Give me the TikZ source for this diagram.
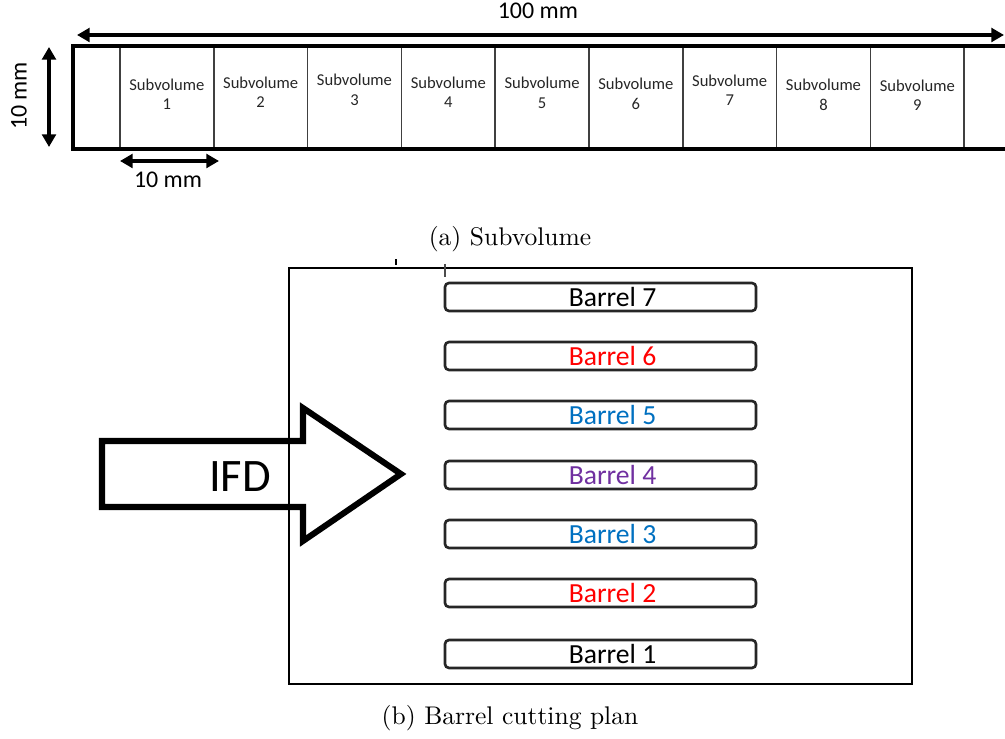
\documentclass[tikz,border=0pt]{standalone}
\usepackage{fontspec}
\newfontfamily\calibri{Carlito}
\usetikzlibrary{arrows.meta, calc}
\definecolor{BarrelRed}{RGB}{255, 0, 0}
\definecolor{BarrelBlue}{RGB}{0, 112, 192}
\definecolor{BarrelPurple}{RGB}{112, 48, 160}

\begin{document}
\begin{tikzpicture}[
    x=0.38pt, y=-0.38pt,
    every node/.style={align=center},
    cell/.style={draw=black!75, line width=0.6pt, minimum width=35.64pt,
                 minimum height=39.1pt, inner sep=0pt},
    svtext/.style={font=\calibri\fontsize{6.3}{7.4}\selectfont, text=black!85},
    dim/.style={{Triangle[length=4.8pt,width=5.2pt]}-{Triangle[length=4.8pt,width=5.2pt]},
                line width=1.4pt},
    dimtext/.style={font=\calibri\fontsize{9.1}{11}\selectfont},
    barrel/.style={draw=black!85, line width=1pt, rounded corners=1.5pt,
                   minimum width=118.2pt, minimum height=10.6pt, inner sep=0pt},
    barreltext/.style={font=\calibri\fontsize{10.5}{12}\selectfont},
    caption/.style={font=\fontsize{9.7}{12}\selectfont}
]
\useasboundingbox (0,0) rectangle (1005,739);

\foreach \i/\dy in {1/-3.5, 2/-5, 3/-7.5, 4/-5.5, 5/-4.5, 6/-3.5, 7/-7.5, 8/-2.5, 9/-2.5} {
  \node[cell] (cell\i) at ({166.9+93.8*(\i-1)}, 97.5) {};
  \node[svtext] (sv\i) at ($(cell\i.center)+(0,\dy)$) {Subvolume\\\i};
}
\draw[line width=1.5pt] (1005,46) -- (73,46) -- (73,149) -- (1005,149);

\coordinate (wl) at (77,35);
\coordinate (wr) at (1004,35);
\draw[dim] (wl) -- node[dimtext, above=2pt, xshift=-1pt] (wlabel) {100 mm} (wr);

\coordinate (ht) at (49,47);
\coordinate (hb) at (49,147);
\draw[dim] (ht) -- (hb);
\node[dimtext, rotate=90] (hlabel) at (19,96) {10 mm};

\coordinate (cl) at (120,161);
\coordinate (cr) at (219,161);
\draw[dim] (cl) -- (cr);
\node[dimtext] (clabel) at (168,180) {10 mm};

\node[caption] (capa) at (510,239) {(a) Subvolume};

\draw[line width=1pt] (289,268) rectangle (912,684);
\draw[line width=0.4pt, black!70] (445,264) -- (445,277);
\fill (395,259) rectangle (397,265);

\foreach \i/\y/\col in {7/297/black, 6/356/BarrelRed, 5/415/BarrelBlue, 4/475/BarrelPurple,
                        3/534/BarrelBlue, 2/593/BarrelRed, 1/654/black} {
  \node[barrel] (barrel\i) at (600.5,\y) {};
  \node[barreltext, text=\col] (blabel\i) at ($(barrel\i.center)+(12,0)$) {Barrel \i};
}

\draw[line width=2.3pt, line join=miter] (102,441) -- (303,441) -- (303,408) -- (401,474)
  -- (303,541) -- (303,507) -- (102,507) -- cycle;
\node[font=\calibri\fontsize{17.7}{20}\selectfont] (ifd) at (240,477) {IFD};

\node[caption] (capb) at (510,718) {(b) Barrel cutting plan};
\end{tikzpicture}
\end{document}
